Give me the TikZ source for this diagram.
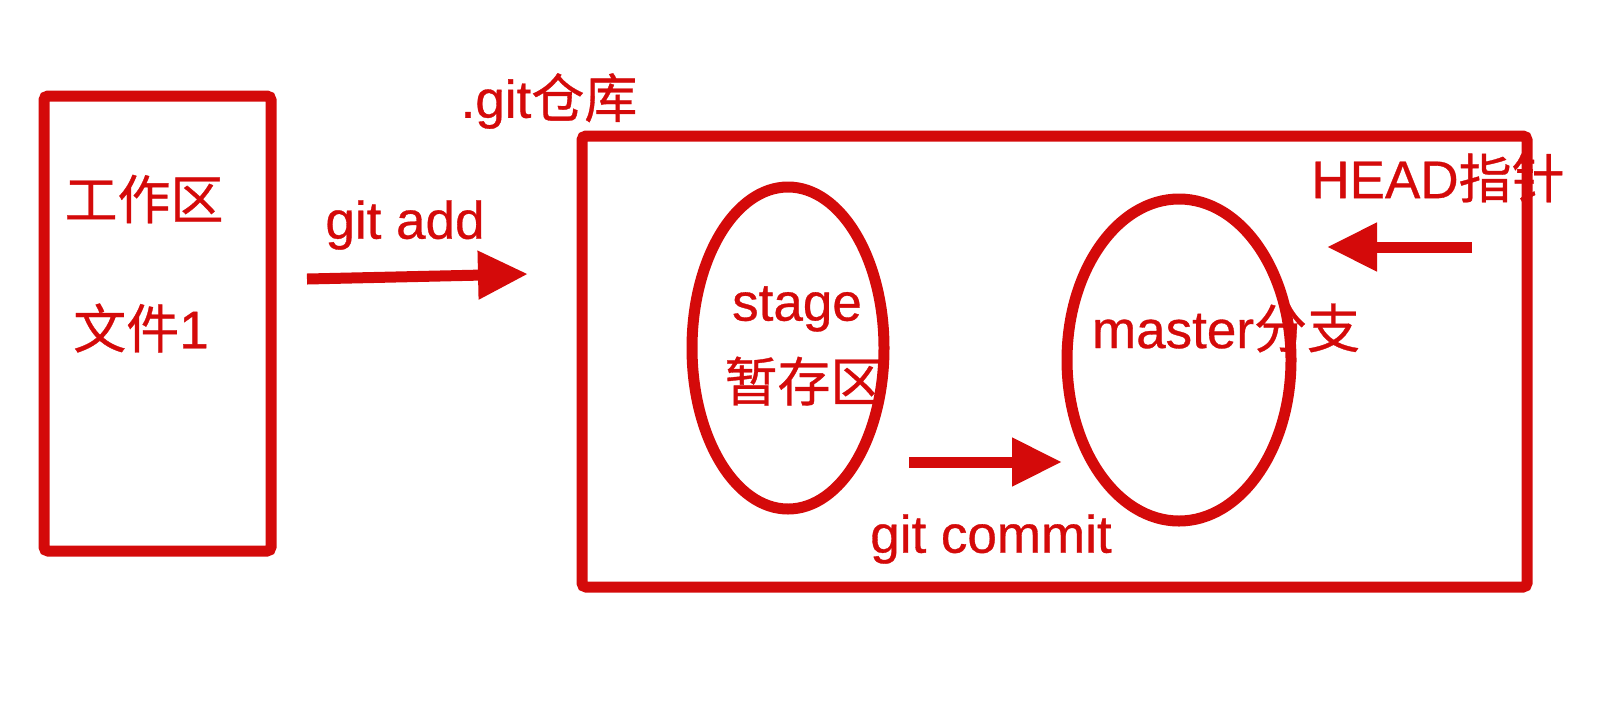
\documentclass[tikz,border=0pt]{standalone}
\usepackage{fontspec}
\setmainfont{Liberation Sans}[FakeBold=0.6]
\newfontfamily\cjk{Noto Sans CJK SC}[FakeBold=0.6]
\usetikzlibrary{arrows.meta,shapes.geometric}
\definecolor{gred}{HTML}{D40A0A}
\begin{document}
\begin{tikzpicture}[x=0.5pt,y=-0.5pt,
  frame/.style={draw=gred,line width=5.5pt,rounded corners=2pt,inner sep=0pt},
  oval/.style={ellipse,draw=gred,line width=5.5pt,inner sep=0pt},
  lbl/.style={text=gred,font=\fontsize{26.5pt}{30pt}\selectfont,inner sep=0pt},
  bigarrow/.style={draw=gred,line width=5.5pt,-{Triangle[length=25pt,width=23pt]}}]
\useasboundingbox (0,0) rectangle (1616,714);
\node[frame,minimum width=113.5pt,minimum height=227.5pt] (work) at (157.5,323.5) {};
\node[frame,minimum width=472.5pt,minimum height=225.5pt] (repo) at (1054.5,361.5) {};
\node[oval,minimum width=96pt,minimum height=161pt] (stage) at (788,348) {};
\node[oval,minimum width=112pt,minimum height=161pt] (master) at (1179,360) {};
\node[lbl] (t1) at (144,199) {\cjk 工作区};
\node[lbl] (t2) at (141,328) {{\cjk 文件}1};
\node[lbl] (t3) at (405,225) {git add};
\node[lbl] (t4) at (549,101) {.git{\cjk 仓库}};
\node[lbl] (t5) at (797,309) {stage};
\node[lbl] (t6) at (804,381) {\cjk 暂存区};
\node[lbl] (t7) at (1226,328) {master{\cjk 分支}};
\node[lbl] (t8) at (991,539) {git commit};
\node[lbl] (t9) at (1438,178) {HEAD{\cjk 指针}};
\coordinate (a1) at (307,279);
\coordinate (a2) at (528,274);
\coordinate (c1) at (909,462);
\coordinate (c2) at (1062,462);
\coordinate (h1) at (1472,247);
\coordinate (h2) at (1327,247);
\draw[bigarrow] (a1) -- (a2);
\draw[bigarrow] (c1) -- (c2);
\draw[bigarrow] (h1) -- (h2);
\end{tikzpicture}
\end{document}
